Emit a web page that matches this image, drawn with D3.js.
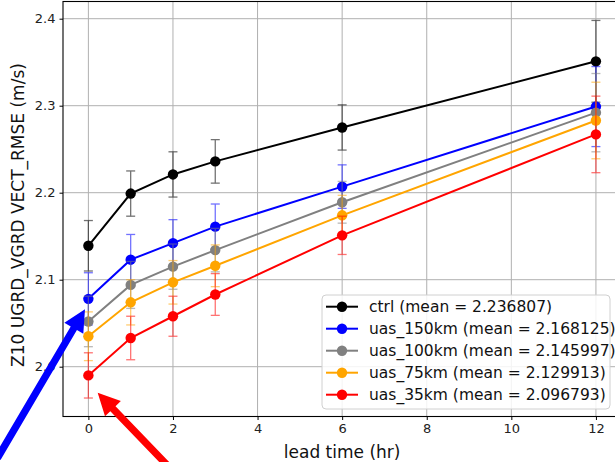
<!DOCTYPE html>
<html><head><meta charset="utf-8">
<script src="https://cdn.jsdelivr.net/npm/d3@7"></script>
<style>body{margin:0;background:#fff;} svg{display:block;font-family:"DejaVu Sans",sans-serif;}</style>
</head><body>
<svg id="c" width="615" height="462"></svg>
<script>
const leadTimes = [0, 1, 2, 3, 6, 12];
const seriesNames = ["ctrl", "uas_150km", "uas_100km", "uas_75km", "uas_35km"];
const seriesMeans = ["2.236807", "2.168125", "2.145997", "2.129913", "2.096793"];
const seriesColors = ["#000000", "#0000ff", "#808080", "#ffa500", "#ff0000"];
const ctrlVals  = [2.139, 2.199, 2.221, 2.236, 2.275, 2.351];
const uas150Vals = [2.078, 2.123, 2.142, 2.161, 2.207, 2.299];
const uas100Vals = [2.052, 2.094, 2.115, 2.134, 2.189, 2.292];
const uas75Vals  = [2.035, 2.074, 2.097, 2.116, 2.174, 2.283];
const uas35Vals  = [1.990, 2.033, 2.058, 2.083, 2.151, 2.267];
const ctrlErr  = [0.029, 0.026, 0.026, 0.025, 0.026, 0.047];
const uas150Err = [0.030, 0.029, 0.027, 0.026, 0.025, 0.046];
const uas100Err = [0.029, 0.027, 0.026, 0.025, 0.024, 0.045];
const uas75Err  = [0.028, 0.026, 0.025, 0.024, 0.023, 0.044];
const uas35Err  = [0.026, 0.025, 0.023, 0.024, 0.022, 0.044];
const xTicks = [0, 2, 4, 6, 8, 10, 12];
const yTicks = [2.0, 2.1, 2.2, 2.3, 2.4];
const xLabel = "lead time (hr)";
const yLabel = "Z10 UGRD_VGRD VECT_RMSE (m/s)";
// annotation arrows: [tailX, tailY, tipX, tipY] in data units
const arrowBlue = [-2.15, 1.895, -0.08, 2.066];
const arrowRed  = [1.9, 1.885, 0.22, 1.970];

const allVals = [ctrlVals, uas150Vals, uas100Vals, uas75Vals, uas35Vals];
const allErr = [ctrlErr, uas150Err, uas100Err, uas75Err, uas35Err];

const svg = d3.select("#c");
const L = 63, R = 621.3, T = 1.5, B = 416.5;
const x = d3.scaleLinear().domain([-0.6, 12.6]).range([L, R]);
const y = d3.scaleLinear().domain([2.0, 2.4]).range([366.7, 18.7]);

// grid
const g = svg.append("g");
g.selectAll("line.gx").data(xTicks).join("line")
  .attr("x1", d => x(d)).attr("x2", d => x(d)).attr("y1", T).attr("y2", B)
  .attr("stroke", "#b0b0b0").attr("stroke-width", 1);
g.selectAll("line.gy").data(yTicks).join("line")
  .attr("y1", d => y(d)).attr("y2", d => y(d)).attr("x1", L).attr("x2", R)
  .attr("stroke", "#b0b0b0").attr("stroke-width", 1);

// series
const line = d3.line().x((d, i) => x(leadTimes[i])).y(d => y(d));
allVals.forEach((vals, s) => {
  const col = seriesColors[s];
  const sg = svg.append("g");
  const eg = sg.append("g").attr("stroke", col).attr("stroke-width", 1.3).attr("opacity", 0.55);
  vals.forEach((v, i) => {
    const e = allErr[s][i], cx = x(leadTimes[i]);
    eg.append("line").attr("x1", cx).attr("x2", cx).attr("y1", y(v - e)).attr("y2", y(v + e));
    eg.append("line").attr("x1", cx - 4.5).attr("x2", cx + 4.5).attr("y1", y(v - e)).attr("y2", y(v - e));
    eg.append("line").attr("x1", cx - 4.5).attr("x2", cx + 4.5).attr("y1", y(v + e)).attr("y2", y(v + e));
  });
  sg.append("path").attr("d", line(vals)).attr("fill", "none").attr("stroke", col).attr("stroke-width", 2);
  sg.selectAll("circle").data(vals).join("circle")
    .attr("cx", (d, i) => x(leadTimes[i])).attr("cy", d => y(d)).attr("r", 5.2).attr("fill", col);
});

// spines
svg.append("rect").attr("x", L).attr("y", T).attr("width", R - L).attr("height", B - T)
  .attr("fill", "none").attr("stroke", "#000").attr("stroke-width", 1.1);

// x axis ticks
const xa = svg.append("g").attr("transform", `translate(0,${B})`)
  .call(d3.axisBottom(x).tickValues(xTicks).tickFormat(d3.format("d")).tickSize(3.5).tickPadding(4));
xa.select(".domain").remove();
xa.selectAll("text").attr("font-size", 13).attr("fill", "#222").attr("font-family", "DejaVu Sans");
const ya = svg.append("g").attr("transform", `translate(${L},0)`)
  .call(d3.axisLeft(y).tickValues(yTicks).tickFormat(d3.format(".1f")).tickSize(3.5).tickPadding(4));
ya.select(".domain").remove();
ya.selectAll("text").attr("font-size", 13).attr("fill", "#222").attr("font-family", "DejaVu Sans");

// labels
svg.append("text").attr("x", x(6)).attr("y", 458).attr("text-anchor", "middle")
  .attr("font-size", 17).attr("fill", "#111").text(xLabel);
svg.append("text").attr("transform", `translate(24,${215}) rotate(-90)`).attr("text-anchor", "middle")
  .attr("font-size", 17).attr("fill", "#111").text(yLabel);

// legend
const lg = svg.append("g");
lg.append("rect").attr("x", 322).attr("y", 295).attr("width", 288).attr("height", 114).attr("rx", 4)
  .attr("fill", "#fff").attr("fill-opacity", 0.85).attr("stroke", "#d0d0d0");
seriesNames.forEach((n, i) => {
  const yy = 306.7 + i * 22;
  lg.append("line").attr("x1", 326).attr("x2", 358).attr("y1", yy).attr("y2", yy)
    .attr("stroke", seriesColors[i]).attr("stroke-width", 2);
  lg.append("circle").attr("cx", 342).attr("cy", yy).attr("r", 5.2).attr("fill", seriesColors[i]);
  lg.append("text").attr("x", 369).attr("y", yy + 5.5).attr("font-size", 15.5).attr("fill", "#111")
    .text(`${n} (mean = ${seriesMeans[i]})`);
});

// arrows
function arrow(a, col) {
  const x1 = x(a[0]), y1 = y(a[1]), x2 = x(a[2]), y2 = y(a[3]);
  const ang = Math.atan2(y2 - y1, x2 - x1);
  const hl = 22, hw = 11, sw = 3.6;
  const bx = x2 - hl * Math.cos(ang), by = y2 - hl * Math.sin(ang);
  const px = -Math.sin(ang), py = Math.cos(ang);
  const pts = [
    [x1 + px * sw, y1 + py * sw], [bx + px * sw, by + py * sw], [bx + px * hw, by + py * hw],
    [x2, y2], [bx - px * hw, by - py * hw], [bx - px * sw, by - py * sw], [x1 - px * sw, y1 - py * sw]
  ];
  svg.append("path").attr("d", "M" + pts.map(p => p.join(",")).join("L") + "Z").attr("fill", col);
}
arrow(arrowBlue, "#0000ff");
arrow(arrowRed, "#ff0000");
</script>
</body></html>
